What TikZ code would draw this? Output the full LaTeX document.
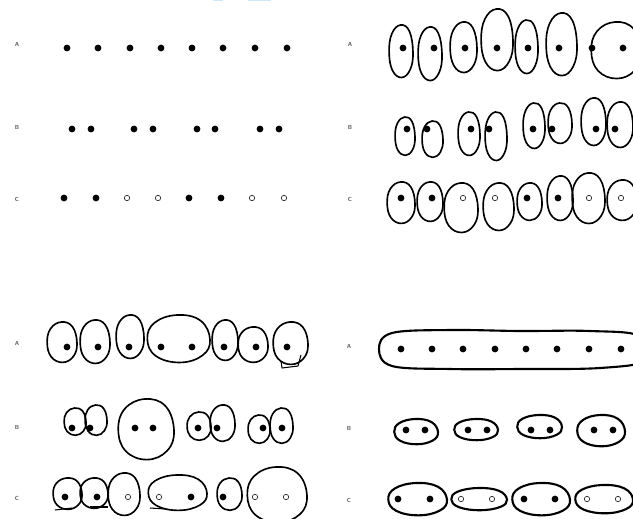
\documentclass[tikz,border=0pt]{standalone}
\usepackage{xcolor}
\definecolor{lblgray}{RGB}{90,90,90}
\definecolor{tabblue}{RGB}{205,232,250}
\usetikzlibrary{calc}

% wobbly hand-drawn loop: centre x, centre y, x radius, y radius
\newcommand{\handloop}[5][]{%
  \draw[loopline,#1] plot[smooth cycle,tension=0.7] coordinates {
    ({#2+#4},{#3+0.05*#5}) ({#2+0.76*#4},{#3+0.72*#5}) ({#2+0.04*#4},{#3+1.02*#5})
    ({#2-0.72*#4},{#3+0.74*#5}) ({#2-0.99*#4},{#3+0.03*#5}) ({#2-0.76*#4},{#3-0.67*#5})
    ({#2-0.04*#4},{#3-#5}) ({#2+0.70*#4},{#3-0.76*#5})};}

\begin{document}
\begin{tikzpicture}[x=0.03cm,y=-0.03cm,
  rowlbl/.style={font=\sffamily\bfseries\fontsize{5}{6}\selectfont,text=lblgray,inner sep=0pt},
  fulldot/.style={fill=black},
  opendot/.style={draw=black!80,line width=0.6pt,fill=white},
  loopline/.style={line width=1.4pt,black,line join=round},
  thickloop/.style={line width=1.8pt}
]
  \useasboundingbox (0,0) rectangle (633,518);
  \fill[tabblue] (213,0) rectangle (223,1.2);
  \fill[tabblue] (248,0) rectangle (271,1.2);

  % row labels
  \node[rowlbl] (la1) at (17,44) {A};
  \node[rowlbl] (lb1) at (17,127) {B};
  \node[rowlbl] (lc1) at (17,199) {C};
  \node[rowlbl] (la2) at (350,44) {A};
  \node[rowlbl] (lb2) at (350,127) {B};
  \node[rowlbl] (lc2) at (350,199) {C};
  \node[rowlbl] (la3) at (17,343) {A};
  \node[rowlbl] (lb3) at (17,427) {B};
  \node[rowlbl] (lc3) at (17,498) {C};
  \node[rowlbl] (la4) at (349,346) {A};
  \node[rowlbl] (lb4) at (349,428) {B};
  \node[rowlbl] (lc4) at (349,500) {C};

  % top left: dots only
  \foreach \x in {67,98,130,161,192,223,255,287}
    \fill[fulldot] (\x,48) circle[radius=2.9pt];
  \foreach \x in {72,91,134,153,197,215,260,279}
    \fill[fulldot] (\x,129) circle[radius=2.9pt];
  \foreach \x in {64,96,189,221}
    \fill[fulldot] (\x,198) circle[radius=2.9pt];
  \foreach \x in {127,158,252,284}
    \draw[opendot] (\x,198) circle[radius=2.3pt];

  % top right: one loop per dot
  \foreach \x in {403,434,465,497,528,559,592,623}
    \fill[fulldot] (\x,48) circle[radius=2.9pt];
  \handloop{401}{51}{12}{26}
  \handloop{430}{53.5}{12}{26.5}
  \handloop{463.5}{47}{13.5}{25}
  \handloop{497}{39.5}{16}{30.5}
  \handloop{526.5}{46.5}{11.5}{26.5}
  \handloop{561.5}{44}{15.5}{31}
  \handloop{616}{50}{25}{28}
  \foreach \x in {407,427,471,489,533,552,596,615}
    \fill[fulldot] (\x,129) circle[radius=2.9pt];
  \handloop{405}{136}{10}{19}
  \handloop{432.5}{139}{10.5}{18}
  \handloop{469}{133.5}{11}{21.5}
  \handloop{496}{136}{11}{24}
  \handloop{534}{125.5}{11}{22.5}
  \handloop{560}{123}{12}{20}
  \handloop{593.5}{121.5}{12.5}{23.5}
  \handloop{620}{124.5}{13}{22.5}
  \foreach \x in {401,432,527,558}
    \fill[fulldot] (\x,198) circle[radius=2.9pt];
  \foreach \x in {463,495,589,621}
    \draw[opendot] (\x,198) circle[radius=2.3pt];
  \handloop{401}{202.5}{14}{20.5}
  \handloop{430}{201.5}{13}{19.5}
  \handloop{461}{207.5}{17}{24.5}
  \handloop{498.5}{206.5}{15.5}{23.5}
  \handloop{529.5}{201.5}{12.5}{18.5}
  \handloop{560}{198}{13}{22}
  \handloop{588.5}{198}{16.5}{25}
  \handloop{622}{200}{15}{20}

  % bottom left: mixed groupings
  \foreach \x in {67,98,129,161,192,224,256,287}
    \fill[fulldot] (\x,347) circle[radius=2.9pt];
  \handloop{62}{342}{15}{20}
  \handloop{95}{341.5}{15}{21.5}
  \handloop{130}{336.5}{14}{21.5}
  \handloop{178.5}{338.5}{31.5}{23.5}
  \handloop{225}{340}{13}{20}
  \handloop{253}{344.5}{15}{17.5}
  \handloop{290.5}{343}{17.5}{21}
  \draw[loopline,line width=0.9pt] (281,361) -- (282,368) -- (298,366) -- (301,355);
  \foreach \x in {72,90,135,153,198,217,263,282}
    \fill[fulldot] (\x,428) circle[radius=2.9pt];
  \handloop{75}{421.5}{11}{13.5}
  \handloop{96}{420}{11}{15}
  \handloop{146}{429}{28}{30}
  \handloop{199}{426}{12}{14}
  \handloop{222.5}{423}{12.5}{18}
  \handloop{259}{429}{11}{14}
  \handloop{281.5}{425.5}{11.5}{17.5}
  \foreach \x in {65,97,191,223}
    \fill[fulldot] (\x,497) circle[radius=2.9pt];
  \foreach \x in {128,159,255,286}
    \draw[opendot] (\x,497) circle[radius=2.3pt];
  \handloop{67.5}{493.5}{14.5}{15.5}
  \handloop{94}{493}{14}{15}
  \handloop{124}{494}{16}{21}
  \handloop{177.5}{492.5}{29.5}{17.5}
  \handloop{229.5}{494}{12.5}{16}
  \handloop{277}{494.5}{30}{27.5}
  \draw[loopline,line width=0.9pt] (55,510) -- (72,508);
  \draw[loopline,line width=0.9pt] (90,507) -- (108,507);
  \draw[loopline,line width=0.9pt] (150,508) -- (166,509);

  % bottom right: regular groupings
  \foreach \x in {401,432,463,495,526,557,589,621}
    \fill[fulldot] (\x,349) circle[radius=2.9pt];
  \draw[loopline,thickloop] plot[smooth cycle,tension=0.6] coordinates {
    (379,349) (392,333) (450,330) (520,331) (590,331) (640,336)
    (648,360) (600,368) (520,369) (450,369) (392,366)};
  \foreach \x in {406,425,468,487,531,550,594,613}
    \fill[fulldot] (\x,430) circle[radius=2.9pt];
  \handloop[thickloop]{416}{431.5}{22}{12.5}
  \handloop[thickloop]{476}{429.5}{22}{10.5}
  \handloop[thickloop]{539.5}{426.5}{22.5}{11.5}
  \handloop[thickloop]{601}{430.5}{24}{15.5}
  \foreach \x in {398,430,524,555}
    \fill[fulldot] (\x,499) circle[radius=2.9pt];
  \foreach \x in {461,492,587,618}
    \draw[opendot] (\x,499) circle[radius=2.3pt];
  \handloop[thickloop]{417.5}{499}{29.5}{16}
  \handloop[thickloop]{479}{499}{28}{11}
  \handloop[thickloop]{541}{499}{29}{16}
  \handloop[thickloop]{604}{499}{29}{14}
\end{tikzpicture}
\end{document}
